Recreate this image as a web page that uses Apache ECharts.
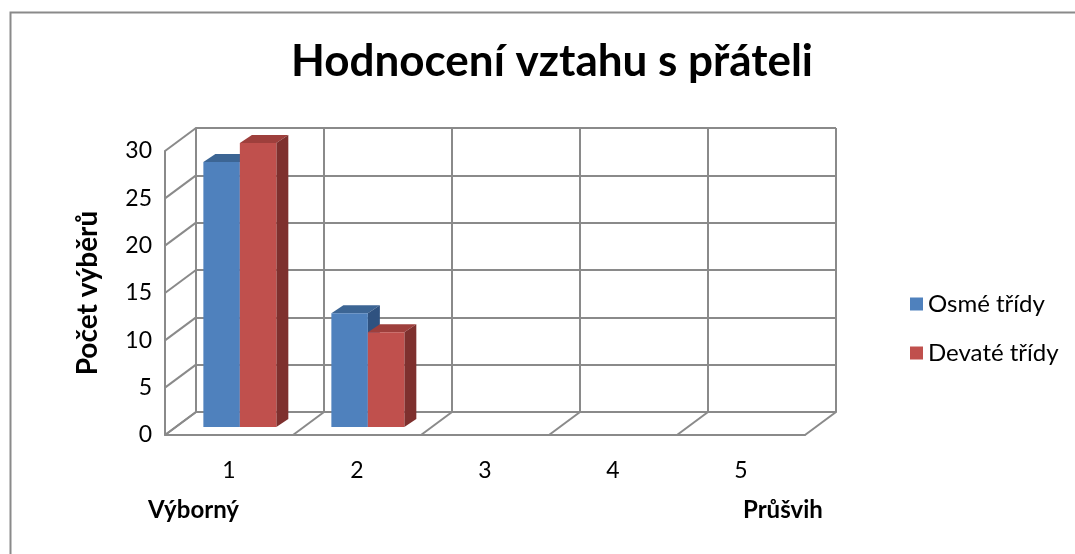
<!DOCTYPE html>
<html>
<head>
<meta charset="utf-8">
<script src="https://cdn.jsdelivr.net/npm/echarts@6/dist/echarts.min.js"></script>
<style>
html,body{margin:0;padding:0;background:#fff;}
#c{width:1075px;height:554px;}
</style>
</head>
<body>
<div id="c"></div>
<script>
// ---- data ----
const categories = ['1', '2', '3', '4', '5'];
const seriesNames = ['Osmé třídy', 'Devaté třídy'];
const osmeTridy = [28, 12, 0, 0, 0];
const devateTridy = [30, 10, 0, 0, 0];
const yMin = 0, yMax = 30, yStep = 5;
const titleText = 'Hodnocení vztahu s přáteli';
const yAxisTitle = 'Počet výběrů';
const leftNote = 'Výborný';
const rightNote = 'Průšvih';

// ---- style / layout ----
const FONT = 'Lato';
const GRID_COLOR = '#8a8a8a';
const DX = -31, DY = 23;          // depth of the 3D box (back wall -> front edge)
const BAR_FRONT = 0.65;           // depth fraction where the bar front faces stand
const BAR_DX = 12, BAR_DY = -8;   // depth of each bar prism
const BAR_W = 0.285;              // bar width as fraction of band
const faceColors = [
  { front: '#4F81BD', top: '#3C6594', side: '#2F5280' },
  { front: '#C0504D', top: '#9E3F3C', side: '#7E302E' }
];

const chart = echarts.init(document.getElementById('c'), null, { renderer: 'canvas' });

function barRender(seriesIdx) {
  return function (params, api) {
    const idx = api.value(0);
    const val = api.value(1);
    if (!val) return null;
    const base = api.coord([idx, 0]);
    const top = api.coord([idx, val]);
    const band = api.size([1, 0])[0];
    const bw = band * BAR_W;
    const cx = base[0] + DX * BAR_FRONT;
    const by = base[1] + DY * BAR_FRONT;
    const ty = top[1] + DY * BAR_FRONT;
    const x0 = seriesIdx === 0 ? cx - bw : cx;
    const x1 = x0 + bw;
    const col = faceColors[seriesIdx];
    return {
      type: 'group',
      children: [
        { type: 'polygon', shape: { points: [[x0, ty], [x1, ty], [x1 + BAR_DX, ty + BAR_DY], [x0 + BAR_DX, ty + BAR_DY]] },
          style: { fill: col.top } },
        { type: 'polygon', shape: { points: [[x1, ty], [x1 + BAR_DX, ty + BAR_DY], [x1 + BAR_DX, by + BAR_DY], [x1, by]] },
          style: { fill: col.side } },
        { type: 'rect', shape: { x: x0, y: ty, width: bw, height: by - ty },
          style: { fill: col.front } }
      ]
    };
  };
}

function frameRender(params, api) {
  const band = api.size([1, 0])[0];
  const children = [];
  const leftX = api.coord([0, 0])[0] - band / 2;
  for (let v = yMin; v <= yMax; v += yStep) {
    const y = api.coord([0, v])[1];
    children.push({ type: 'line', shape: { x1: leftX, y1: y, x2: leftX + DX, y2: y + DY },
      style: { stroke: GRID_COLOR, lineWidth: 2 } });
  }
  const y0 = api.coord([0, yMin])[1];
  for (let j = 0; j <= categories.length; j++) {
    const x = j < categories.length ? api.coord([j, 0])[0] - band / 2
                                     : api.coord([j - 1, 0])[0] + band / 2;
    children.push({ type: 'line', shape: { x1: x, y1: y0, x2: x + DX, y2: y0 + DY },
      style: { stroke: GRID_COLOR, lineWidth: 2 } });
  }
  return { type: 'group', children: children };
}

const lineStyle = { color: GRID_COLOR, width: 2 };

const option = {
  backgroundColor: '#fff',
  animation: false,
  textStyle: { fontFamily: FONT },
  title: {
    text: titleText,
    left: 547, top: 35,
    textAlign: 'center',
    textStyle: { fontFamily: FONT, fontWeight: 'bold', fontSize: 44, color: '#000' }
  },
  legend: {
    orient: 'vertical',
    left: 905, top: 287,
    itemWidth: 13, itemHeight: 13,
    itemGap: 25,
    icon: 'rect',
    data: seriesNames,
    textStyle: { fontFamily: FONT, fontSize: 24, color: '#000' }
  },
  grid: [
    { left: 196, top: 128, width: 640, height: 284 },
    { left: 196 + DX, top: 128 + DY, width: 640, height: 284 }
  ],
  xAxis: [
    { type: 'category', gridIndex: 0, data: categories, boundaryGap: true,
      axisLine: { show: true, lineStyle: lineStyle }, axisTick: { show: false },
      axisLabel: { show: false },
      splitLine: { show: true, lineStyle: lineStyle } },
    { type: 'category', gridIndex: 1, data: categories, boundaryGap: true,
      axisLine: { show: true, lineStyle: lineStyle }, axisTick: { show: false },
      axisLabel: { show: true, margin: 24, fontSize: 23, color: '#000', fontFamily: FONT },
      splitLine: { show: false } }
  ],
  yAxis: [
    { type: 'value', gridIndex: 0, min: yMin, max: yMax, interval: yStep,
      axisLine: { show: true, lineStyle: lineStyle }, axisTick: { show: false },
      axisLabel: { show: false },
      splitLine: { show: true, lineStyle: lineStyle } },
    { type: 'value', gridIndex: 1, min: yMin, max: yMax, interval: yStep,
      name: yAxisTitle, nameLocation: 'middle', nameGap: 63,
      nameTextStyle: { fontFamily: FONT, fontWeight: 'bold', fontSize: 28, color: '#000' },
      axisLine: { show: true, lineStyle: lineStyle }, axisTick: { show: false },
      axisLabel: { show: true, margin: 13, fontSize: 23, color: '#000', fontFamily: FONT },
      splitLine: { show: false } }
  ],
  graphic: [
    { type: 'rect', left: 8, top: 10, z: -1, silent: true,
      shape: { width: 1200, height: 700 },
      style: { fill: 'none', stroke: '#8a8a8a', lineWidth: 2 } },
    { type: 'text', left: 148, top: 498,
      style: { text: leftNote, fontFamily: FONT, fontWeight: 'bold', fontSize: 24, fill: '#000' } },
    { type: 'text', left: 743, top: 498,
      style: { text: rightNote, fontFamily: FONT, fontWeight: 'bold', fontSize: 24, fill: '#000' } }
  ],
  series: [
    { type: 'custom', name: 'frame', xAxisIndex: 0, yAxisIndex: 0, data: [[0, 0]],
      renderItem: frameRender, silent: true, z: 1 },
    { type: 'custom', name: seriesNames[0], xAxisIndex: 0, yAxisIndex: 0,
      itemStyle: { color: faceColors[0].front },
      data: osmeTridy.map((v, i) => [i, v]), renderItem: barRender(0), z: 2 },
    { type: 'custom', name: seriesNames[1], xAxisIndex: 0, yAxisIndex: 0,
      itemStyle: { color: faceColors[1].front },
      data: devateTridy.map((v, i) => [i, v]), renderItem: barRender(1), z: 3 }
  ]
};
chart.setOption(option);
</script>
</body>
</html>
